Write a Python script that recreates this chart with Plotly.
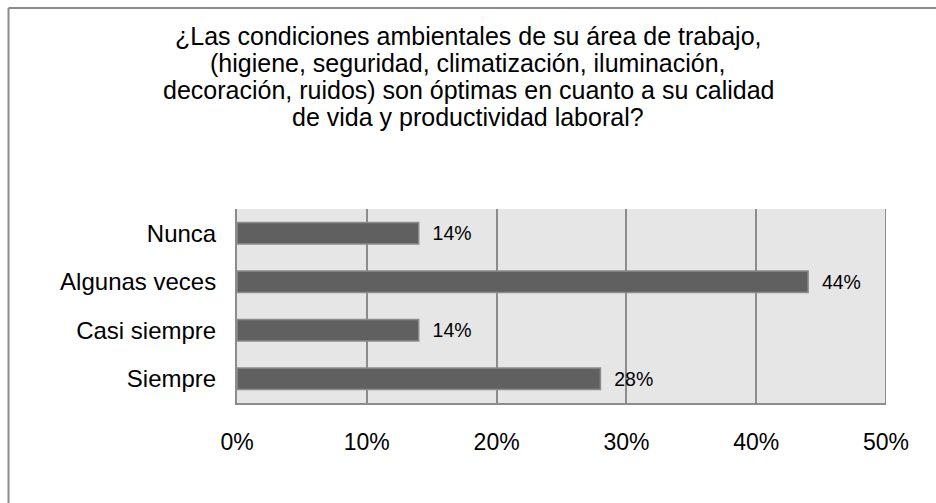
import plotly.graph_objects as go

# ── Datos ────────────────────────────────────────────────────────────────────
categorias = ["Siempre", "Casi siempre", "Algunas veces", "Nunca"]
porcentajes = [28, 14, 44, 14]
etiquetas = ["  28%", "  14%", "  44%", "  14%"]
ticks_x = [0, 10, 20, 30, 40, 50]
ticks_texto = ["0%", "10%", "20%", "30%", "40%", "50%"]

lineas_titulo = [
    "¿Las condiciones ambientales de su área de trabajo,",
    "(higiene, seguridad, climatización, iluminación,",
    "decoración, ruidos) son óptimas en cuanto a su calidad",
    "de vida y productividad laboral?",
]

FUENTE = "Liberation Sans, Arial, sans-serif"
GRIS = "#8c8c8c"
W, H = 936, 503

fig = go.Figure(go.Bar(
    x=porcentajes,
    y=categorias,
    orientation="h",
    text=etiquetas,
    textposition="outside",
    textfont=dict(size=21, color="#000000", family=FUENTE),
    cliponaxis=False,
    marker=dict(color="#606060", line=dict(color=GRIS, width=1.5)),
))

# título: una anotación por línea para controlar el interlineado
for i, linea in enumerate(lineas_titulo):
    fig.add_annotation(
        text=linea,
        xref="paper", yref="paper",
        x=0.5, y=1 - (36 + 27 * i) / H,
        xanchor="center", yanchor="middle",
        showarrow=False,
        font=dict(size=25, family=FUENTE, color="#000000"),
    )

fig.update_layout(
    width=W,
    height=H,
    margin=dict(l=0, r=0, t=0, b=0, autoexpand=False),
    paper_bgcolor="#ffffff",
    plot_bgcolor="#e6e6e6",
    bargap=0.56,
    showlegend=False,
    font=dict(family=FUENTE, color="#000000"),
    xaxis=dict(
        domain=[237 / W, 886 / W],
        range=[0, 50],
        tickvals=ticks_x,
        ticktext=ticks_texto,
        tickfont=dict(size=23),
        showgrid=True,
        gridcolor=GRIS,
        gridwidth=2,
        zeroline=False,
        showline=True,
        linecolor=GRIS,
        linewidth=2,
        ticks="",
        ticklabelstandoff=17,
        automargin=False,
        fixedrange=True,
    ),
    yaxis=dict(
        domain=[100 / H, 294 / H],
        categoryorder="array",
        categoryarray=categorias,
        tickfont=dict(size=24),
        showgrid=False,
        zeroline=False,
        showline=True,
        linecolor=GRIS,
        linewidth=2,
        ticks="",
        ticklabelstandoff=14,
        automargin=False,
        fixedrange=True,
    ),
    shapes=[
        # marco exterior (bordes superior e izquierdo visibles)
        dict(type="line", xref="paper", yref="paper",
             x0=8.5 / W, x1=1.0, y0=1 - 8 / H, y1=1 - 8 / H,
             line=dict(color=GRIS, width=2)),
        dict(type="line", xref="paper", yref="paper",
             x0=8.5 / W, x1=8.5 / W, y0=0, y1=1 - 8 / H,
             line=dict(color=GRIS, width=2)),
        # borde derecho del área de trazado
        dict(type="line", xref="x", yref="paper",
             x0=50, x1=50, y0=100 / H, y1=294 / H,
             line=dict(color=GRIS, width=2)),
    ],
)

fig.write_html(
    "out.html",
    config={"displayModeBar": False},
    post_script="document.body.style.margin='0';document.body.style.overflow='hidden';",
)
